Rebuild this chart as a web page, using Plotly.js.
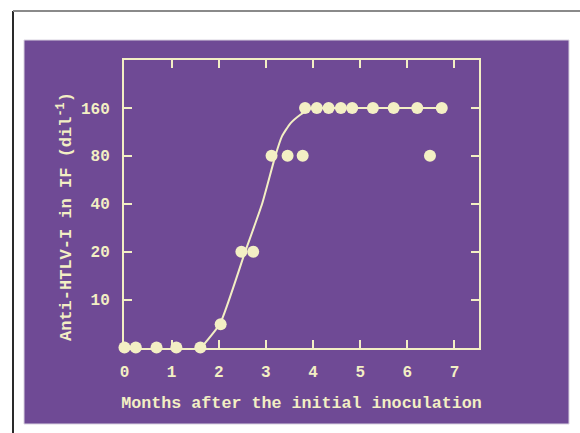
<!DOCTYPE html>
<html>
<head>
<meta charset="utf-8">
<script src="https://cdn.plot.ly/plotly-3.0.1.min.js"></script>
<style>html,body{margin:0;padding:0;background:#fff;}#chart{width:580px;height:433px;}</style>
</head>
<body>
<div id="chart"></div>
<script>
// Measured data (months after inoculation, anti-HTLV-I titer; 5 = below detection baseline)
const monthsObs = [0.00, 0.24, 0.68, 1.10, 1.61, 2.04, 2.48, 2.73, 3.12, 3.46, 3.78,
                   3.83, 4.08, 4.33, 4.59, 4.83, 5.27, 5.71, 6.21, 6.73, 6.48];
const titerObs  = [5, 5, 5, 5, 5, 7, 20, 20, 80, 80, 80,
                   160, 160, 160, 160, 160, 160, 160, 160, 160, 80];
// Fitted curve
const monthsCurve = [1.63, 2.03, 2.56, 2.92, 3.20, 3.34, 3.52, 3.73, 3.87, 3.97, 4.15, 6.73];
const titerCurve  = [5, 7.1, 20, 40, 80, 106, 128, 145, 154, 160, 160, 160];
const yTickVals = [10, 20, 40, 80, 160];
const yTickText = ['10', '20', '40', '80', '160'];
const xTickVals = [0, 1, 2, 3, 4, 5, 6, 7];
const xTickText = ['0', '1', '2', '3', '4', '5', '6', '7'];
const yTitle = 'Anti-HTLV-I in IF (dil<sup>-1</sup>)';
const xTitle = 'Months after the initial inoculation';

const cream = '#f3efc4';
const purple = '#6f4a95';
const font = {family: 'Liberation Mono, Courier New, monospace', size: 16, color: cream, weight: 'bold'};

// layout geometry (pixels)
const W = 580, H = 433, L = 124, R = 479, T = 60, B = 348;
const px = v => (v - L) / (R - L);
const py = v => (B - v) / (B - T);

const traces = [
  {x: monthsCurve, y: titerCurve, type: 'scatter', mode: 'lines',
   line: {color: cream, width: 2, shape: 'spline', smoothing: 0.5},
   hoverinfo: 'skip', showlegend: false, cliponaxis: false},
  {x: monthsObs, y: titerObs, type: 'scatter', mode: 'markers',
   marker: {color: cream, size: 12, line: {width: 0}},
   showlegend: false, cliponaxis: false}
];

const axisCommon = {
  showgrid: false, zeroline: false, showline: true, linecolor: cream, linewidth: 2,
  mirror: 'allticks', ticks: 'inside', ticklen: 8, tickwidth: 2, tickcolor: cream,
  tickfont: font
};

const layout = {
  width: W, height: H,
  margin: {l: L, r: W - R, t: T, b: H - B, pad: 0},
  paper_bgcolor: '#ffffff',
  plot_bgcolor: 'rgba(0,0,0,0)',
  showlegend: false,
  xaxis: Object.assign({}, axisCommon, {
    range: [-0.01, 7.52], tickvals: xTickVals, ticktext: xTickText,
    ticklabelstandoff: 8,
    title: {text: xTitle, font: Object.assign({}, font, {size: 16.7}), standoff: 15}
  }),
  yaxis: Object.assign({}, axisCommon, {
    type: 'log', range: [Math.log10(4.97), Math.log10(320)],
    tickvals: yTickVals, ticktext: yTickText,
    ticklabelstandoff: 9
  }),
  annotations: [
    {text: yTitle, xref: 'paper', yref: 'paper', x: px(65), y: py(217),
     xanchor: 'center', yanchor: 'middle', textangle: -90, showarrow: false,
     font: Object.assign({}, font, {size: 17})}
  ],
  shapes: [
    {type: 'rect', xref: 'paper', yref: 'paper', layer: 'below',
     x0: px(24), x1: px(569), y0: py(424), y1: py(40),
     fillcolor: purple, line: {color: '#d9d2e0', width: 1}},
    {type: 'line', xref: 'paper', yref: 'paper', layer: 'below',
     x0: px(13), x1: px(13), y0: py(11), y1: py(433),
     line: {color: '#2a2a2a', width: 2}},
    {type: 'line', xref: 'paper', yref: 'paper', layer: 'below',
     x0: px(13), x1: px(580), y0: py(11), y1: py(11),
     line: {color: '#8a8a8a', width: 2}}
  ]
};

Plotly.newPlot('chart', traces, layout, {displayModeBar: false, staticPlot: true});
</script>
</body>
</html>
